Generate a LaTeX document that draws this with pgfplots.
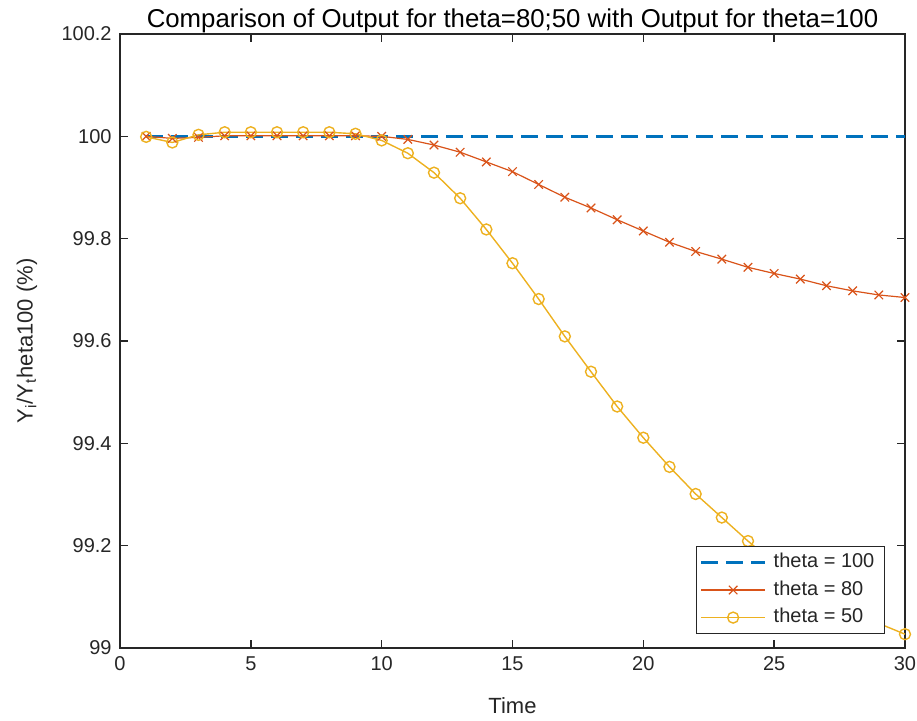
\documentclass[border=0pt]{standalone}
\usepackage{pgfplots}
\pgfplotsset{compat=1.18}
\usepackage{fontspec}
\setmainfont{Liberation Sans}

\definecolor{mblue}{rgb}{0,0.447,0.741}
\definecolor{morange}{rgb}{0.85,0.325,0.098}
\definecolor{myellow}{rgb}{0.929,0.694,0.125}
\definecolor{axgray}{rgb}{0.15,0.15,0.15}

% Output relative to theta = 100, in percent
\pgfplotstableread{
t  y100     y80      y50
1  100.000  100.000  99.999
2  100.000  99.996   99.988
3  100.000  99.998   100.003
4  100.000  100.001  100.008
5  100.000  100.001  100.008
6  100.000  100.001  100.008
7  100.000  100.001  100.008
8  100.000  100.001  100.008
9  100.000  100.001  100.005
10 100.000  100.000  99.992
11 100.000  99.994   99.967
12 100.000  99.983   99.929
13 100.000  99.969   99.879
14 100.000  99.950   99.818
15 100.000  99.931   99.752
16 100.000  99.906   99.682
17 100.000  99.881   99.609
18 100.000  99.860   99.540
19 100.000  99.837   99.472
20 100.000  99.815   99.411
21 100.000  99.793   99.354
22 100.000  99.775   99.301
23 100.000  99.760   99.255
24 100.000  99.744   99.209
25 100.000  99.732   99.166
26 100.000  99.721   99.130
27 100.000  99.708   99.098
28 100.000  99.698   99.071
29 100.000  99.690   99.048
30 100.000  99.685   99.027
}\outputdata

\begin{document}
\begin{tikzpicture}
\useasboundingbox (-60pt,-36pt) rectangle (398.5pt,324pt);
\begin{axis}[
  at={(0pt,0pt)}, anchor=south west,
  scale only axis, width=392.5pt, height=307pt,
  xmin=0, xmax=30, ymin=99, ymax=100.2,
  clip=false,
  xtick={0,5,...,30},
  ytick={99,99.2,99.4,99.6,99.8,100,100.2},
  yticklabels={99,99.2,99.4,99.6,99.8,100,100.2},
  scaled y ticks=false,
  tick align=inside,
  major tick length=4pt,
  axis line style={axgray, line width=0.7pt},
  every tick/.style={axgray, line width=0.7pt},
  tick label style={font=\fontsize{10}{12}\selectfont, text=axgray},
  /pgf/number format/assume math mode=true,
  xticklabel style={anchor=north, inner sep=0pt, yshift=-4pt},
  yticklabel style={anchor=east, inner sep=0pt, xshift=-4pt},
  title={Comparison of Output for theta=80;50 with Output for theta=100},
  title style={at={(axis description cs:0.5,1)}, anchor=south, inner sep=0pt,
    yshift=-5.5pt, font=\fontsize{12.9}{15}\selectfont},
  xlabel={Time},
  xlabel style={at={(axis description cs:0.5,0)}, anchor=north, inner sep=0pt,
    yshift=-24.5pt, font=\fontsize{11}{13}\selectfont, text=axgray},
  ylabel={Y\textsubscript{i}/Y\textsubscript{t}heta100 (\%)},
  ylabel style={at={(axis description cs:-0.1185,0.5)}, anchor=center,
    inner sep=0pt, font=\fontsize{11}{13}\selectfont, text=axgray},
  legend cell align=left,
  legend image code/.code={\draw[mark repeat=2,mark phase=2,#1]
    plot coordinates {(0pt,0pt) (16pt,0pt) (32pt,0pt)};},
  legend style={at={(axis description cs:1,0)}, anchor=south east,
    xshift=-10pt, yshift=7pt, draw=black!85, line width=0.6pt, fill=white,
    font=\fontsize{10}{12}\selectfont, text=axgray,
    inner xsep=1.5pt, inner ysep=1pt, column sep=3.5pt,
    nodes={inner ysep=2.3pt, inner xsep=0pt, text height=7.2pt, text depth=2pt}},
]
\addplot[mblue, line width=1.6pt, dash pattern=on 8.5pt off 4pt]
  table[x=t, y=y100] {\outputdata};
\addlegendentry{theta = 100\hspace*{3.5pt}}
\addplot[morange, line width=0.6pt, mark=x, mark size=3pt, mark options={solid}]
  table[x=t, y=y80] {\outputdata};
\addlegendentry{theta = 80\hspace*{3.5pt}}
\addplot[myellow, line width=0.7pt, mark=o, mark size=2.75pt, mark options={solid}]
  table[x=t, y=y50] {\outputdata};
\addlegendentry{theta = 50\hspace*{3.5pt}}
\end{axis}
\end{tikzpicture}
\end{document}
